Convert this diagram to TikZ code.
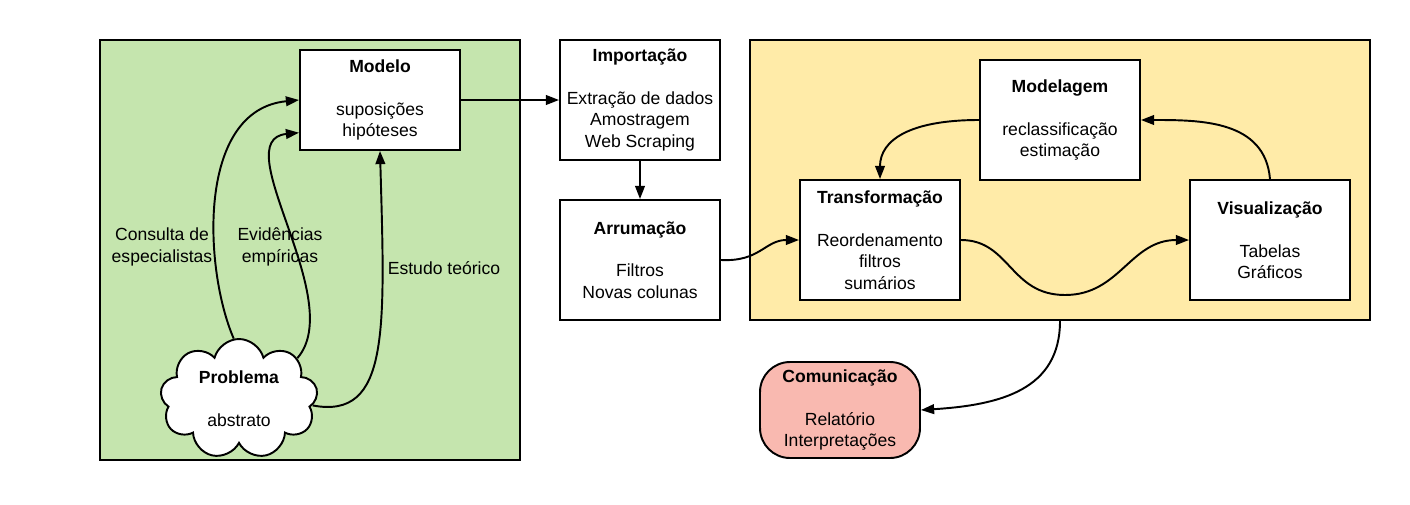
\documentclass[tikz,border=0pt]{standalone}
\usepackage{fontspec}
\setmainfont{Liberation Sans}
\usepackage{tikz}
\usetikzlibrary{
	arrows.meta,
	positioning,
	shapes.symbols
}
\definecolor{areaGreen}{HTML}{C5E5AE}
\definecolor{areaYellow}{HTML}{FFEBA8}
\definecolor{boxPink}{HTML}{F9B9B0}
\tikzset{every path/.append style={line width=1.1pt}}
\tikzset{every path/.append style={>={Triangle[length=7.5pt,width=5.5pt]}}}
\tikzset{
	area/.style={draw,inner sep=0pt},
	box/.style={draw,fill=white,align=center,minimum width=3.2cm,minimum height=2.4cm,inner sep=0pt,font=\fontsize{10}{12.2}\selectfont},
	terminal/.style={box,fill=boxPink,rounded corners=0.6cm,minimum height=1.92cm},
	cloudy/.style={box,cloud,cloud puffs=9,aspect=1.33,minimum width=3.15cm,minimum height=2.4cm},
	note/.style={align=center,inner sep=0pt,font=\fontsize{10}{12.2}\selectfont}
}
\newcommand{\tikzBox}[4][]{\node (#3) at #2 [box,#1]{#4};}
\newcommand{\boxTitle}[1]{\textbf{#1}\\[\baselineskip]}

\begin{document}
\begin{tikzpicture}[x=0.02cm,y=-0.02cm]
	\useasboundingbox (0,0) rectangle (1410,504);
	
	\node (exploracao) at (310,250) [area,fill=areaGreen,minimum width=8.4cm,minimum height=8.4cm] {};
	\node (analise) at (1060,180) [area,fill=areaYellow,minimum width=12.4cm,minimum height=5.6cm] {};
	
	\tikzBox[minimum height=2cm]{(380,100)}{modelo}{\boxTitle{Modelo}suposições\\hipóteses}
	\tikzBox{(640,100)}{importacao}{\boxTitle{Importação}Extração de dados\\Amostragem\\Web Scraping}
	\tikzBox{(640,260)}{arrumacao}{\boxTitle{Arrumação}Filtros\\Novas colunas}
	\tikzBox{(880,240)}{transformacao}{\boxTitle{Transformação}Reordenamento\\filtros\\sumários}
	\tikzBox{(1060,120)}{modelagem}{\boxTitle{Modelagem}reclassificação\\estimação}
	\tikzBox{(1270,240)}{visualizacao}{\boxTitle{Visualização}Tabelas\\Gráficos}
	
	\node (comunicacao) at (840,410) [terminal] {\boxTitle{Comunicação}Relatório\\Interpretações};
	\node (problema) at (239,399) [cloudy] {\boxTitle{Problema}abstrato};
	
	\node (consulta) at (162,247) [note] {Consulta de\\especialistas};
	\node (evidencias) at (280,247) [note] {Evidências\\empíricas};
	\node (estudo) at (444,268) [note] {Estudo teórico};
	
	\draw[->] (problema.95) .. controls (204,270) and (196,110) .. (modelo.west);
	\draw[->] (problema.35) .. controls (348,300) and (225,140) .. (modelo.202);
	\draw[->] (problema.-5) .. controls (390,420) and (385,330) .. (modelo.south);
	
	\draw[->] (modelo.east) -- (importacao.west);
	\draw[->] (importacao) -- (arrumacao);
	\draw[->] (arrumacao.east) .. controls (760,262) and (765,240) .. (transformacao.west);
	\draw[->] (transformacao.east) .. controls (1010,240) and (1010,295) .. (1065,295) .. controls (1120,295) and (1130,240) .. (visualizacao.west);
	\draw[->] (visualizacao.north) .. controls (1265,120) and (1200,120) .. (modelagem.east);
	\draw[->] (modelagem.west) .. controls (910,120) and (880,140) .. (transformacao.north);
	\draw[->] (analise.south) .. controls (1060,390) and (1000,405) .. (comunicacao.east);
\end{tikzpicture}
\end{document}
